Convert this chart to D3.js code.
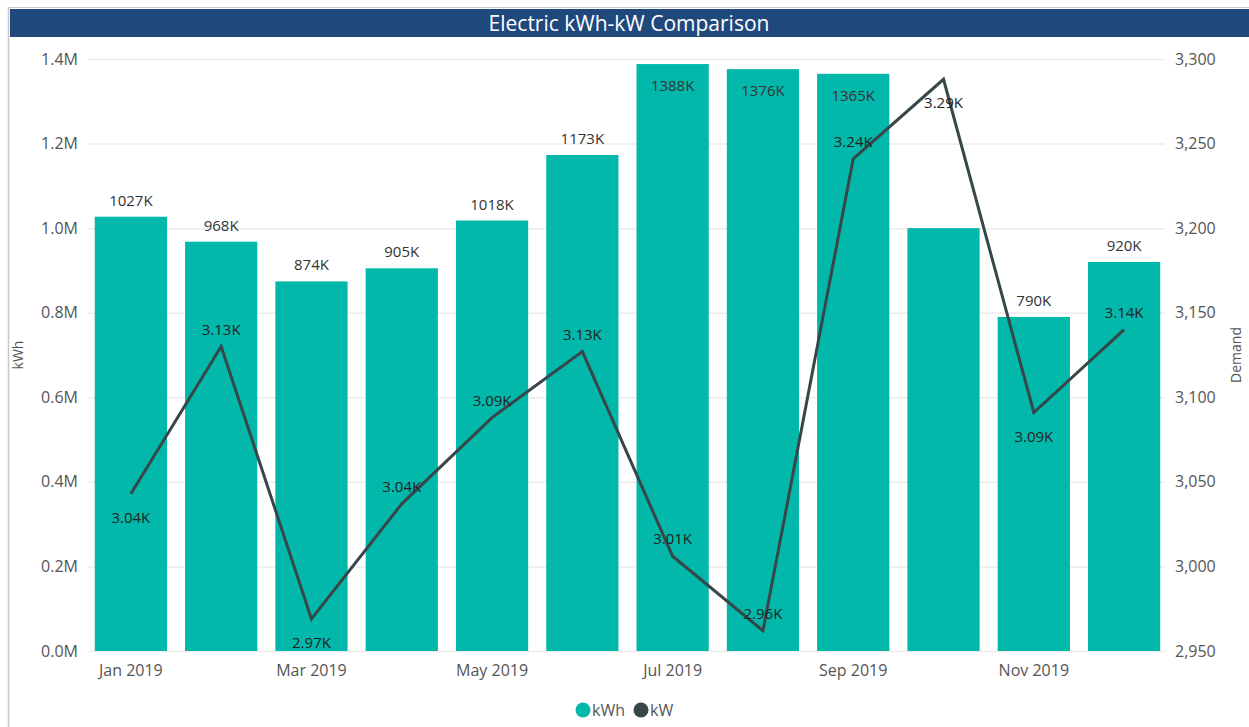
<!DOCTYPE html>
<html>
<head>
<meta charset="utf-8">
<script src="https://cdn.jsdelivr.net/npm/d3@7/dist/d3.min.js"></script>
<style>
  html, body { margin: 0; padding: 0; background: #fff; }
  svg { display: block; font-family: "Open Sans", "Noto Sans", sans-serif; }
</style>
</head>
<body>
<svg id="chart" width="1249" height="727"></svg>
<script>
const months = ["Jan 2019","Feb 2019","Mar 2019","Apr 2019","May 2019","Jun 2019","Jul 2019","Aug 2019","Sep 2019","Oct 2019","Nov 2019","Dec 2019"];
const kwhValues = [1027000, 968000, 874000, 905000, 1018000, 1173000, 1388000, 1376000, 1365000, 1000000, 790000, 920000];
const kwValues = [3043, 3130, 2969, 3037, 3088, 3127, 3006, 2962, 3241, 3288, 3091, 3140];
const kwhTicks = [0, 200000, 400000, 600000, 800000, 1000000, 1200000, 1400000];
const kwTicks = [2950, 3000, 3050, 3100, 3150, 3200, 3250, 3300];
const xTickLabels = ["Jan 2019","Mar 2019","May 2019","Jul 2019","Sep 2019","Nov 2019"];
const kwLabelSide = ["below","above","below","above","above","above","above","above","above","below","below","above"];
const kwhLabelSide = ["out","out","out","out","out","out","in","in","in","none","out","out"];

const svg = d3.select("#chart");
const W = 1249, H = 727;
const plot = { left: 88, right: 1167, top: 59, bottom: 651 };
const teal = "#01B8AA", lineCol = "#374649";

// frame
svg.append("line").attr("x1", 8.5).attr("x2", 8.5).attr("y1", 7).attr("y2", H).attr("stroke", "#c8c8c8").attr("stroke-width", 1.5);
svg.append("line").attr("x1", 8).attr("x2", W).attr("y1", 7.5).attr("y2", 7.5).attr("stroke", "#c8c8c8").attr("stroke-width", 1);
svg.append("rect").attr("x", 10).attr("y", 9).attr("width", W - 10).attr("height", 28).attr("fill", "#1F497D");
svg.append("text").attr("x", 629).attr("y", 30.5).attr("text-anchor", "middle")
  .attr("fill", "#fff").attr("font-size", 21).text("Electric kWh-kW Comparison");

const x = d3.scaleBand().domain(months).range([plot.left, plot.right]).paddingInner(0.2).paddingOuter(0.075);
const yL = d3.scaleLinear().domain([0, 1400000]).range([plot.bottom, plot.top]);
const yR = d3.scaleLinear().domain([2950, 3300]).range([plot.bottom, plot.top]);

// gridlines
svg.append("g").selectAll("line").data(kwhTicks).join("line")
  .attr("x1", plot.left).attr("x2", plot.right - 2)
  .attr("y1", d => yL(d) + 0.5).attr("y2", d => yL(d) + 0.5)
  .attr("stroke", "#ececec").attr("stroke-width", 1.5);

// left axis
const fmtM = d => (d / 1e6).toFixed(1) + "M";
const axL = svg.append("g").attr("transform", `translate(${plot.left - 10},0)`)
  .call(d3.axisLeft(yL).tickValues(kwhTicks).tickFormat(fmtM).tickSize(0).tickPadding(0));
axL.select(".domain").remove();
axL.selectAll("text").attr("font-size", 16).attr("fill", "#555").attr("font-family", "Open Sans");

// right axis
const axR = svg.append("g").attr("transform", `translate(${plot.right + 8},0)`)
  .call(d3.axisRight(yR).tickValues(kwTicks).tickFormat(d3.format(",")).tickSize(0).tickPadding(0));
axR.select(".domain").remove();
axR.selectAll("text").attr("font-size", 16).attr("fill", "#555").attr("font-family", "Open Sans");

// x axis
const axX = svg.append("g").attr("transform", `translate(0,${plot.bottom + 9})`)
  .call(d3.axisBottom(x).tickValues(xTickLabels).tickSize(0).tickPadding(5));
axX.select(".domain").remove();
axX.selectAll("text").attr("font-size", 16).attr("fill", "#555").attr("font-family", "Open Sans");

// axis titles
svg.append("text").attr("transform", `translate(23,${(plot.top + plot.bottom) / 2}) rotate(-90)`)
  .attr("text-anchor", "middle").attr("font-size", 14).attr("fill", "#555").text("kWh");
svg.append("text").attr("transform", `translate(1241,${(plot.top + plot.bottom) / 2}) rotate(-90)`)
  .attr("text-anchor", "middle").attr("font-size", 14).attr("fill", "#555").text("Demand");

// bars
svg.append("g").selectAll("rect").data(months).join("rect")
  .attr("x", d => x(d)).attr("width", x.bandwidth())
  .attr("y", (d, i) => yL(kwhValues[i])).attr("height", (d, i) => plot.bottom - yL(kwhValues[i]))
  .attr("fill", teal);

// bar labels
const shownIdx = months.map((d, i) => i).filter(i => kwhLabelSide[i] !== "none");
svg.append("g").selectAll("text").data(shownIdx).join("text")
  .attr("x", i => x(months[i]) + x.bandwidth() / 2)
  .attr("y", i => kwhLabelSide[i] === "in" ? yL(kwhValues[i]) + 27 : yL(kwhValues[i]) - 11)
  .attr("text-anchor", "middle").attr("font-size", 15).attr("fill", "#333")
  .text(i => Math.round(kwhValues[i] / 1000) + "K");

// line
const line = d3.line().x((d, i) => x(months[i]) + x.bandwidth() / 2).y(d => yR(d));
svg.append("path").datum(kwValues).attr("d", line)
  .attr("fill", "none").attr("stroke", lineCol).attr("stroke-width", 3).attr("stroke-linejoin", "miter");

// line labels
svg.append("g").selectAll("text").data(kwValues).join("text")
  .attr("x", (d, i) => x(months[i]) + x.bandwidth() / 2)
  .attr("y", (d, i) => kwLabelSide[i] === "above" ? yR(d) - 12 : yR(d) + 29)
  .attr("text-anchor", "middle").attr("font-size", 15).attr("fill", "#222")
  .text(d => (d / 1000).toFixed(2) + "K");

// legend
const legend = [{ name: "kWh", color: teal, cx: 583 }, { name: "kW", color: lineCol, cx: 641 }];
const lg = svg.append("g");
lg.selectAll("circle").data(legend).join("circle")
  .attr("cx", d => d.cx).attr("cy", 710).attr("r", 7.5).attr("fill", d => d.color);
lg.selectAll("text").data(legend).join("text")
  .attr("x", d => d.cx + 9).attr("y", 716).attr("font-size", 16).attr("fill", "#555").text(d => d.name);
</script>
</body>
</html>
